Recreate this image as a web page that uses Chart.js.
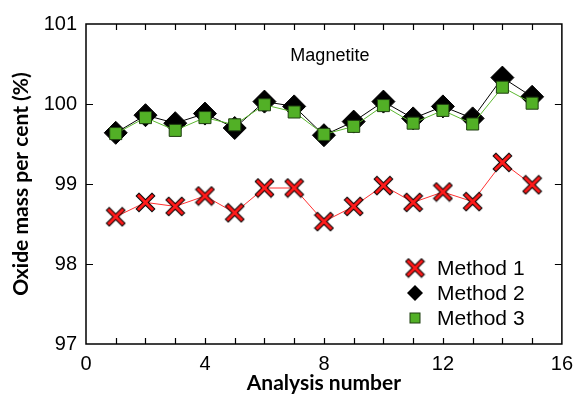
<!DOCTYPE html>
<html>
<head>
<meta charset="utf-8">
<script src="https://cdn.jsdelivr.net/npm/chart.js@4.4.1/dist/chart.umd.min.js"></script>
<style>
  html, body { margin: 0; padding: 0; background: #fff; }
</style>
</head>
<body>
<canvas id="oxideChart" width="581" height="401"></canvas>
<script>
const analysisNumbers = [1, 2, 3, 4, 5, 6, 7, 8, 9, 10, 11, 12, 13, 14, 15];
const method1 = [98.59, 98.77, 98.72, 98.85, 98.64, 98.95, 98.95, 98.53, 98.72, 98.98, 98.77, 98.90, 98.78, 99.27, 98.99];
const method2 = [99.64, 99.86, 99.76, 99.88, 99.70, 100.03, 99.97, 99.61, 99.78, 100.03, 99.82, 99.97, 99.82, 100.33, 100.09];
const method3 = [99.63, 99.83, 99.67, 99.83, 99.74, 99.99, 99.90, 99.62, 99.72, 99.98, 99.76, 99.92, 99.75, 100.21, 100.01];
const seriesNames = ["Method 1", "Method 2", "Method 3"];
const xTickLabels = [0, 4, 8, 12, 16];
const yTickLabels = [97, 98, 99, 100, 101];
const panelLabel = "Magnetite";

const tickFont = "'Liberation Sans', Arial, sans-serif";
const titleFont = "Lato, 'DejaVu Sans', sans-serif";

// red X with a black outline, as an image point style
function makeCross(half) {
    const pad = 4;
    const s = Math.ceil(half * 2 + pad * 2);
    const c = document.createElement("canvas");
    c.width = s; c.height = s;
    const g = c.getContext("2d");
    const a = pad, b = s - pad;
    g.lineCap = "square";
    g.strokeStyle = "#000";
    g.lineWidth = 5;
    g.beginPath();
    g.moveTo(a, a); g.lineTo(b, b);
    g.moveTo(b, a); g.lineTo(a, b);
    g.stroke();
    g.strokeStyle = "#ff1a1a";
    g.lineWidth = 3;
    g.beginPath();
    g.moveTo(a, a); g.lineTo(b, b);
    g.moveTo(b, a); g.lineTo(a, b);
    g.stroke();
    return c;
}
const crossImg = makeCross(6.5);

function toPoints(values) {
    return values.map((v, i) => ({ x: analysisNumbers[i], y: v }));
}

const framePlugin = {
    id: "frame",
    afterDatasetsDraw(chart) {
        const { ctx, chartArea: a, scales } = chart;
        ctx.save();
        ctx.strokeStyle = "#000";
        ctx.lineWidth = 1.5;
        ctx.strokeRect(a.left, a.top, a.right - a.left, a.bottom - a.top);
        ctx.lineWidth = 1.2;
        ctx.beginPath();
        for (let v = scales.x.min + 1; v < scales.x.max; v++) {
            const px = Math.round(scales.x.getPixelForValue(v)) + 0.5;
            ctx.moveTo(px, a.bottom); ctx.lineTo(px, a.bottom - 6);
            ctx.moveTo(px, a.top); ctx.lineTo(px, a.top + 6);
        }
        for (let v = scales.y.min + 1; v < scales.y.max; v++) {
            const py = Math.round(scales.y.getPixelForValue(v)) + 0.5;
            ctx.moveTo(a.left, py); ctx.lineTo(a.left + 7, py);
            ctx.moveTo(a.right, py); ctx.lineTo(a.right - 7, py);
        }
        ctx.stroke();

        // panel label
        ctx.fillStyle = "#000";
        ctx.font = "18px " + tickFont;
        ctx.textAlign = "center";
        ctx.textBaseline = "middle";
        ctx.fillText(panelLabel, scales.x.getPixelForValue(8.2), scales.y.getPixelForValue(100.6));

        // legend
        const lx = 415, ly = 268, step = 25;
        ctx.font = "21px " + tickFont;
        ctx.textAlign = "left";
        ctx.drawImage(crossImg, lx - crossImg.width / 2, ly - crossImg.height / 2);
        ctx.fillStyle = "#000";
        ctx.beginPath();
        ctx.moveTo(lx, ly + step - 8); ctx.lineTo(lx + 8, ly + step);
        ctx.lineTo(lx, ly + step + 8); ctx.lineTo(lx - 8, ly + step);
        ctx.closePath(); ctx.fill();
        ctx.fillStyle = "#52b026";
        ctx.strokeStyle = "#1f3f10";
        ctx.lineWidth = 1;
        ctx.fillRect(lx - 5, ly + 2 * step - 5, 10, 10);
        ctx.strokeRect(lx - 5, ly + 2 * step - 5, 10, 10);
        ctx.fillStyle = "#000";
        seriesNames.forEach((name, i) => {
            ctx.fillText(name, lx + 22, ly + i * step + 1);
        });
        ctx.restore();
    }
};

new Chart(document.getElementById("oxideChart"), {
    type: "line",
    data: {
        datasets: [
            {
                label: seriesNames[0],
                data: toPoints(method1),
                borderColor: "#ff3030",
                borderWidth: 1,
                pointStyle: crossImg,
                order: 2
            },
            {
                label: seriesNames[1],
                data: toPoints(method2),
                borderColor: "#000",
                borderWidth: 1,
                pointStyle: "rectRot",
                pointRadius: 11.5,
                pointBackgroundColor: "#000",
                pointBorderColor: "#000",
                pointBorderWidth: 1,
                order: 1
            },
            {
                label: seriesNames[2],
                data: toPoints(method3),
                borderColor: "#5cb830",
                borderWidth: 1,
                pointStyle: "rect",
                pointRadius: 8.5,
                pointBackgroundColor: "#52b026",
                pointBorderColor: "#1f3f10",
                pointBorderWidth: 1,
                order: 0
            }
        ]
    },
    options: {
        responsive: false,
        animation: false,
        devicePixelRatio: 1,
        layout: { padding: { top: 24, right: 16, left: 0, bottom: 0 } },
        plugins: {
            legend: { display: false },
            tooltip: { enabled: false }
        },
        scales: {
            x: {
                type: "linear",
                min: 0,
                max: 16,
                afterFit: s => { s.height = 57; },
                afterBuildTicks: s => { s.ticks = xTickLabels.map(v => ({ value: v })); },
                grid: { display: false, drawTicks: false },
                border: { display: false },
                ticks: {
                    color: "#000",
                    padding: 8,
                    font: { family: tickFont, size: 20 }
                },
                title: {
                    display: true,
                    text: "Analysis number",
                    color: "#000",
                    padding: { top: 0, bottom: 5 },
                    font: { family: titleFont, size: 21, weight: "bold" }
                }
            },
            y: {
                min: 97,
                max: 101,
                afterFit: s => { s.width = 86; },
                afterBuildTicks: s => { s.ticks = yTickLabels.map(v => ({ value: v })); },
                grid: { display: false, drawTicks: false },
                border: { display: false },
                ticks: {
                    color: "#000",
                    padding: 9,
                    font: { family: tickFont, size: 20 }
                },
                title: {
                    display: true,
                    text: "Oxide mass per cent (%)",
                    color: "#000",
                    padding: { top: 9, bottom: 0 },
                    font: { family: titleFont, size: 21, weight: "bold" }
                }
            }
        }
    },
    plugins: [framePlugin]
});
</script>
</body>
</html>
